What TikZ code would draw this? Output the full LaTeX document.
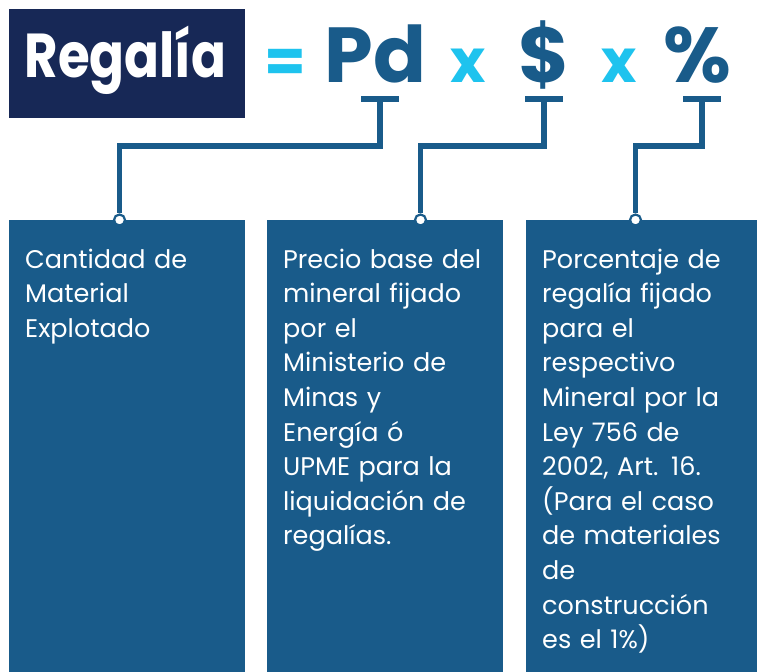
\documentclass[tikz,border=0pt]{standalone}
\usepackage{fontspec}
\setmainfont{Poppins}
\definecolor{navy}{HTML}{172856}
\definecolor{boxblue}{HTML}{195B8A}
\definecolor{cyanx}{HTML}{1EC3EE}
\begin{document}
\begin{tikzpicture}[x=1bp,y=-1bp,
  infobox/.style={fill=boxblue, draw=none, anchor=north west, minimum height=452bp, inner sep=0pt},
  bodytext/.style={anchor=base west, align=left, text width=225bp, inner sep=0pt, text=white,
     font={\fontsize{25.5bp}{34.6bp}\selectfont}},
  bigsym/.style={anchor=base, inner sep=0pt, text=boxblue, font={\fontsize{78bp}{78bp}\selectfont\bfseries}},
  opsym/.style={anchor=base, inner sep=0pt, text=cyanx, font={\fontsize{60bp}{60bp}\selectfont\bfseries}},
  link/.style={draw=boxblue, line width=5.5bp, line join=miter},
  tbar/.style={draw=boxblue, line width=6bp},
  dot/.style={circle, draw=boxblue, fill=white, line width=2.2bp, minimum size=11bp, inner sep=0pt}]
\useasboundingbox (0,0) rectangle (757,672);
\fill[white] (0,0) rectangle (757,672);
% title
\node[fill=navy, anchor=north west, minimum width=236bp, minimum height=109bp, inner sep=0pt] (titlebox) at (9,9) {};
\node[anchor=base, inner sep=0pt, text=white, font={\fontsize{62bp}{62bp}\selectfont\bfseries}] (title) at (125.5,78) {\scalebox{0.83}[1]{Regalía}};
% formula
\node[opsym] (eq) at (285,83) {=};
\node[bigsym] (pd) at (375.5,83) {Pd};
\node[opsym] (x1) at (468.5,83) {x};
\node[bigsym] (dollar) at (544.5,83) {\$};
\node[opsym] (x2) at (619.5,83) {x};
\node[bigsym] (pct) at (697.5,83) {\%};
% boxes
\node[infobox, minimum width=236bp] (b1) at (9,220) {};
\node[infobox, minimum width=236bp] (b2) at (267,220) {};
\node[infobox, minimum width=231bp] (b3) at (526,220) {};
% texts
\node[bodytext] (t1) at (25,268) {Cantidad de\\Material\\Explotado};
\node[bodytext] (t2) at (283,268) {Precio base del\\mineral fijado\\por el\\Ministerio de\\Minas y\\Energía ó\\UPME para la\\liquidación de\\regalías.};
\node[bodytext] (t3) at (542,268) {Porcentaje de\\regalía fijado\\para el\\respectivo\\Mineral por la\\Ley 756 de\\2002, Art. 16.\\(Para el caso\\de materiales\\de\\construcción\\es el 1\%)};
% T bars
\coordinate (k1) at (380,99);
\coordinate (k2) at (544,99);
\coordinate (k3) at (702,99);
\draw[tbar] ([xshift=-19bp]k1) -- ([xshift=19bp]k1);
\draw[tbar] ([xshift=-19bp]k2) -- ([xshift=19bp]k2);
\draw[tbar] ([xshift=-19bp]k3) -- ([xshift=19bp]k3);
% dots
\node[dot] (d1) at (119.5,220) {};
\node[dot] (d2) at (420.5,220) {};
\node[dot] (d3) at (635.5,220) {};
% connectors
\draw[link] (k1) |- (119.5,146) -- (d1.north);
\draw[link] (k2) |- (420.5,146) -- (d2.north);
\draw[link] (k3) |- (635.5,146) -- (d3.north);
\end{tikzpicture}
\end{document}
